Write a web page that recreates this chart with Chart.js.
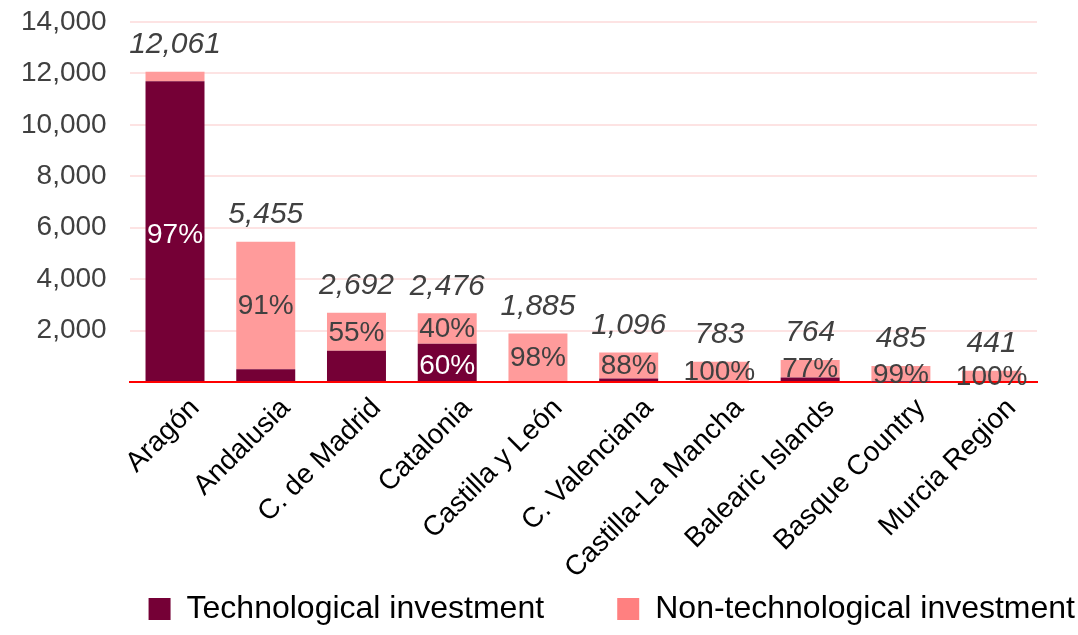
<!DOCTYPE html>
<html lang="en">
<head>
    <meta charset="UTF-8">
    <title>Investment by region</title>
    <script src="https://cdn.jsdelivr.net/npm/chart.js@4.4.0/dist/chart.umd.min.js"></script>
    <style>
        body { margin: 0; background: #fff; }
        #wrap { width: 1078px; height: 635px; }
    </style>
</head>
<body>
    <div id="wrap"><canvas id="barChart" width="1078" height="635"></canvas></div>

<script>
    const regions = ['Aragón', 'Andalusia', 'C. de Madrid', 'Catalonia', 'Castilla y León',
        'C. Valenciana', 'Castilla-La Mancha', 'Balearic Islands', 'Basque Country', 'Murcia Region'];
    const techValues = [11700, 491, 1211, 1486, 38, 132, 0, 176, 5, 0];
    const nonTechValues = [361, 4964, 1481, 1190, 1847, 1020, 783, 680, 620, 441];
    const totalLabels = ['12,061', '5,455', '2,692', '2,476', '1,885', '1,096', '783', '764', '485', '441'];
    const techShare = ['97%', '', '', '60%', '', '', '', '', '', ''];
    const nonTechShare = ['', '91%', '55%', '40%', '98%', '88%', '100%', '77%', '99%', '100%'];
    const yTicks = [0, 2000, 4000, 6000, 8000, 10000, 12000, 14000];

    const font = "'Liberation Sans', Arial, sans-serif";

    // draws the totals above the bars and the shares inside the segments
    const barLabels = {
        id: 'barLabels',
        afterDatasetsDraw(chart) {
            const ctx = chart.ctx;
            const tech = chart.getDatasetMeta(0).data;
            const nonTech = chart.getDatasetMeta(1).data;
            ctx.save();
            ctx.textAlign = 'center';
            ctx.textBaseline = 'middle';
            regions.forEach((r, i) => {
                const top = nonTech[i];
                ctx.font = 'italic 30px ' + font;
                ctx.fillStyle = '#404040';
                ctx.fillText(totalLabels[i], top.x, top.y - 27);

                ctx.font = '28px ' + font;
                if (techShare[i]) {
                    const b = tech[i];
                    ctx.fillStyle = '#ffffff';
                    ctx.fillText(techShare[i], b.x, (b.y + b.base) / 2 + 4);
                }
                if (nonTechShare[i]) {
                    const b = nonTech[i];
                    ctx.fillStyle = '#404040';
                    ctx.fillText(nonTechShare[i], b.x, (b.y + b.base) / 2 + 1);
                }
            });
            ctx.restore();
        }
    };

    const chart = new Chart(document.getElementById('barChart').getContext('2d'), {
        type: 'bar',
        data: {
            labels: regions,
            datasets: [{
                label: 'Technological investment',
                data: techValues,
                backgroundColor: '#750036',
                categoryPercentage: 1,
                barPercentage: 0.65
            }, {
                label: 'Non-technological investment',
                data: nonTechValues,
                backgroundColor: '#ff9b9b',
                categoryPercentage: 1,
                barPercentage: 0.65
            }]
        },
        options: {
            responsive: false,
            animation: false,
            layout: { padding: { top: 0, right: 1, left: -2, bottom: 0 } },
            plugins: {
                tooltip: { enabled: false },
                legend: {
                    position: 'bottom',
                    align: 'end',
                    labels: {
                        color: '#000',
                        font: { family: font, size: 32 },
                        boxWidth: 22,
                        boxHeight: 22,
                        padding: 2,
                        generateLabels(c) {
                            const fills = ['#750036', '#ff8080'];
                            // trailing spaces keep the wide gap between the two items
                            const texts = [c.data.datasets[0].label + '        ', c.data.datasets[1].label];
                            return c.data.datasets.map((d, i) => ({
                                text: texts[i],
                                fillStyle: fills[i],
                                strokeStyle: fills[i],
                                lineWidth: 0,
                                datasetIndex: i
                            }));
                        }
                    }
                }
            },
            scales: {
                x: {
                    stacked: true,
                    grid: { display: false },
                    border: { color: '#ff0000', width: 2 },
                    afterFit(scale) {
                        scale.paddingRight = 41;
                        scale.height = 209;
                    },
                    ticks: {
                        color: '#000',
                        font: { family: font, size: 28 },
                        maxRotation: 45,
                        minRotation: 45,
                        labelOffset: 20,
                        padding: 2
                    }
                },
                y: {
                    stacked: true,
                    min: 0,
                    max: 14000,
                    afterBuildTicks(scale) {
                        scale.ticks = yTicks.map(v => ({ value: v }));
                    },
                    afterFit(scale) {
                        scale.paddingTop = 22;
                    },
                    border: { display: false },
                    grid: {
                        drawTicks: false,
                        lineWidth: 2,
                        color: c => c.tick && c.tick.value === 0 ? 'rgba(0,0,0,0)' : '#fde3e3'
                    },
                    ticks: {
                        color: '#404040',
                        padding: 23,
                        font: { family: font, size: 28 },
                        callback: v => v === 0 ? '' : v.toLocaleString('en-US')
                    }
                }
            }
        },
        plugins: [barLabels]
    });
</script>
</body>
</html>
